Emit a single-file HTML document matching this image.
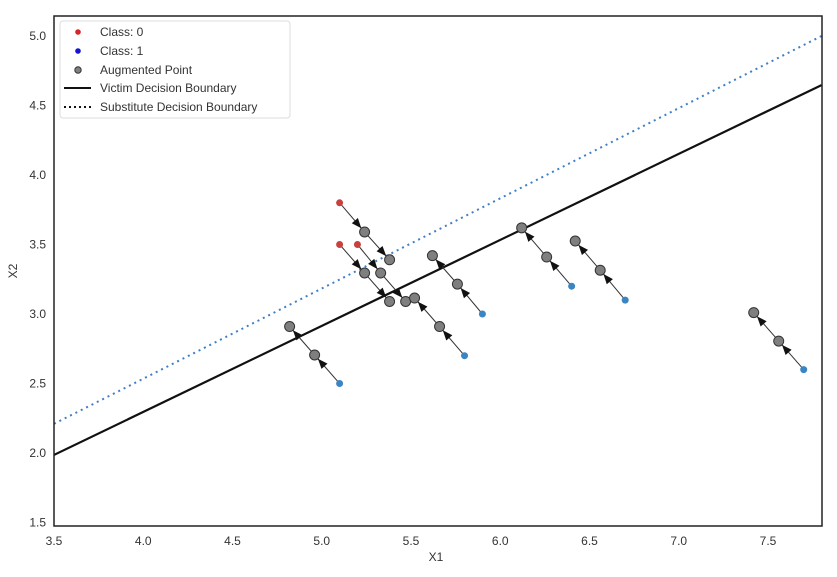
<!DOCTYPE html>
<html><head><meta charset="utf-8"><style>
body{margin:0;background:#fff;font-family:"Liberation Sans",sans-serif}
svg text{font-family:"Liberation Sans",sans-serif;fill:#333}
</style></head><body>
<svg id="chart" width="837" height="572">
<defs>
<clipPath id="clip"><rect x="54" y="16" width="768" height="510"/></clipPath>
</defs>
<g id="grid"></g>
<g id="lines" clip-path="url(#clip)"></g>
<g id="marks"></g>
<rect x="54" y="16" width="768" height="510" fill="none" stroke="#222" stroke-width="1.5"/>
<g id="axes"></g>
<text x="436" y="561" font-size="12" text-anchor="middle">X1</text>
<text x="17" y="271" font-size="12" text-anchor="middle" transform="rotate(-90 17 271)">X2</text>
<g>
<rect x="60" y="21" width="230" height="97" fill="#fff" stroke="#ddd" rx="3"/>
<g><circle cx="78" cy="32" r="2.8" fill="#d62728"/><text x="100" y="36" font-size="12">Class: 0</text></g>
<g><circle cx="78" cy="51" r="2.8" fill="#1515cc"/><text x="100" y="55" font-size="12">Class: 1</text></g>
<g><circle cx="78" cy="70" r="3.2" fill="#808080" stroke="#333"/><text x="100" y="74" font-size="12">Augmented Point</text></g>
<g><line x1="64" y1="88" x2="91" y2="88" stroke="#111" stroke-width="2"/><text x="100" y="92" font-size="12">Victim Decision Boundary</text></g>
<g><line x1="64" y1="107" x2="91" y2="107" stroke="#111" stroke-width="2" stroke-dasharray="2,3"/><text x="100" y="111" font-size="12">Substitute Decision Boundary</text></g>
</g>
</svg>
<script>
const xTicks=[3.5,4.0,4.5,5.0,5.5,6.0,6.5,7.0,7.5];
const yTicks=[1.5,2.0,2.5,3.0,3.5,4.0,4.5,5.0];
const origX=[5.1,5.1,5.2,5.1,5.8,5.9,6.4,6.7,7.7];
const origY=[3.8,3.5,3.5,2.5,2.7,3.0,3.2,3.1,2.6];
const origClass=[0,0,0,1,1,1,1,1,1];
const aug1X=[5.24,5.24,5.33,4.96,5.66,5.76,6.26,6.56,7.56];
const aug1Y=[3.59,3.295,3.295,2.705,2.91,3.215,3.41,3.315,2.805];
const aug2X=[5.38,5.38,5.47,4.82,5.52,5.62,6.12,6.42,7.42];
const aug2Y=[3.39,3.09,3.09,2.91,3.115,3.42,3.62,3.525,3.01];
const victimX=[3.5,7.8], victimY=[1.986,4.647];
const subX=[3.5,7.8], subY=[2.21,5.0];
const xs=v=>54+(v-3.5)*178.5, ys=v=>36+(5-v)*139;
const NS="http://www.w3.org/2000/svg";
function mk(t,a,p){const e=document.createElementNS(NS,t);for(const k in a)e.setAttribute(k,a[k]);document.getElementById(p).appendChild(e);return e;}
xTicks.forEach(v=>{const t=mk('text',{x:xs(v),y:545,'font-size':12,'text-anchor':'middle'},'axes');t.textContent=v.toFixed(1);

});
yTicks.forEach(v=>{const t=mk('text',{x:46,y:ys(v)+4,'font-size':12,'text-anchor':'end'},'axes');t.textContent=v.toFixed(1);

});
let l=mk('line',{x1:xs(victimX[0]),y1:ys(victimY[0]),x2:xs(victimX[1]),y2:ys(victimY[1]),stroke:'#111','stroke-width':2.2},'lines');


l=mk('line',{x1:xs(subX[0]),y1:ys(subY[0]),x2:xs(subX[1]),y2:ys(subY[1]),stroke:'#3f7fc6','stroke-width':2,'stroke-dasharray':'2,4'},'lines');


function arrow(x1,y1,x2,y2){
  const X1=xs(x1),Y1=ys(y1),X2=xs(x2),Y2=ys(y2);
  const dx=X2-X1,dy=Y2-Y1,L=Math.hypot(dx,dy),ux=dx/L,uy=dy/L;
  const ln=mk('line',{x1:X1,y1:Y1,x2:X2,y2:Y2,stroke:'#333','stroke-width':1},'marks');
  
  
  const tx=X2-ux*5,ty=Y2-uy*5,bx=tx-ux*10,by=ty-uy*10,px=-uy*4,py=ux*4;
  const h=mk('polygon',{points:`${tx},${ty} ${bx+px},${by+py} ${bx-px},${by-py}`,fill:'#111'},'marks');
  
  
}
origX.forEach((x,i)=>{arrow(x,origY[i],aug1X[i],aug1Y[i]);arrow(aug1X[i],aug1Y[i],aug2X[i],aug2Y[i]);});
origX.forEach((x,i)=>{
  const c=mk('circle',{cx:xs(x),cy:ys(origY[i]),r:3.5,fill:origClass[i]?'#3a86c4':'#c9413f'},'marks');
  
  
  [[aug1X[i],aug1Y[i]],[aug2X[i],aug2Y[i]]].forEach(p=>{
    const a=mk('circle',{cx:xs(p[0]),cy:ys(p[1]),r:5,fill:'#7f7f7f',stroke:'#333','stroke-width':1},'marks');
    
    
  });
});
</script>
</body></html>
